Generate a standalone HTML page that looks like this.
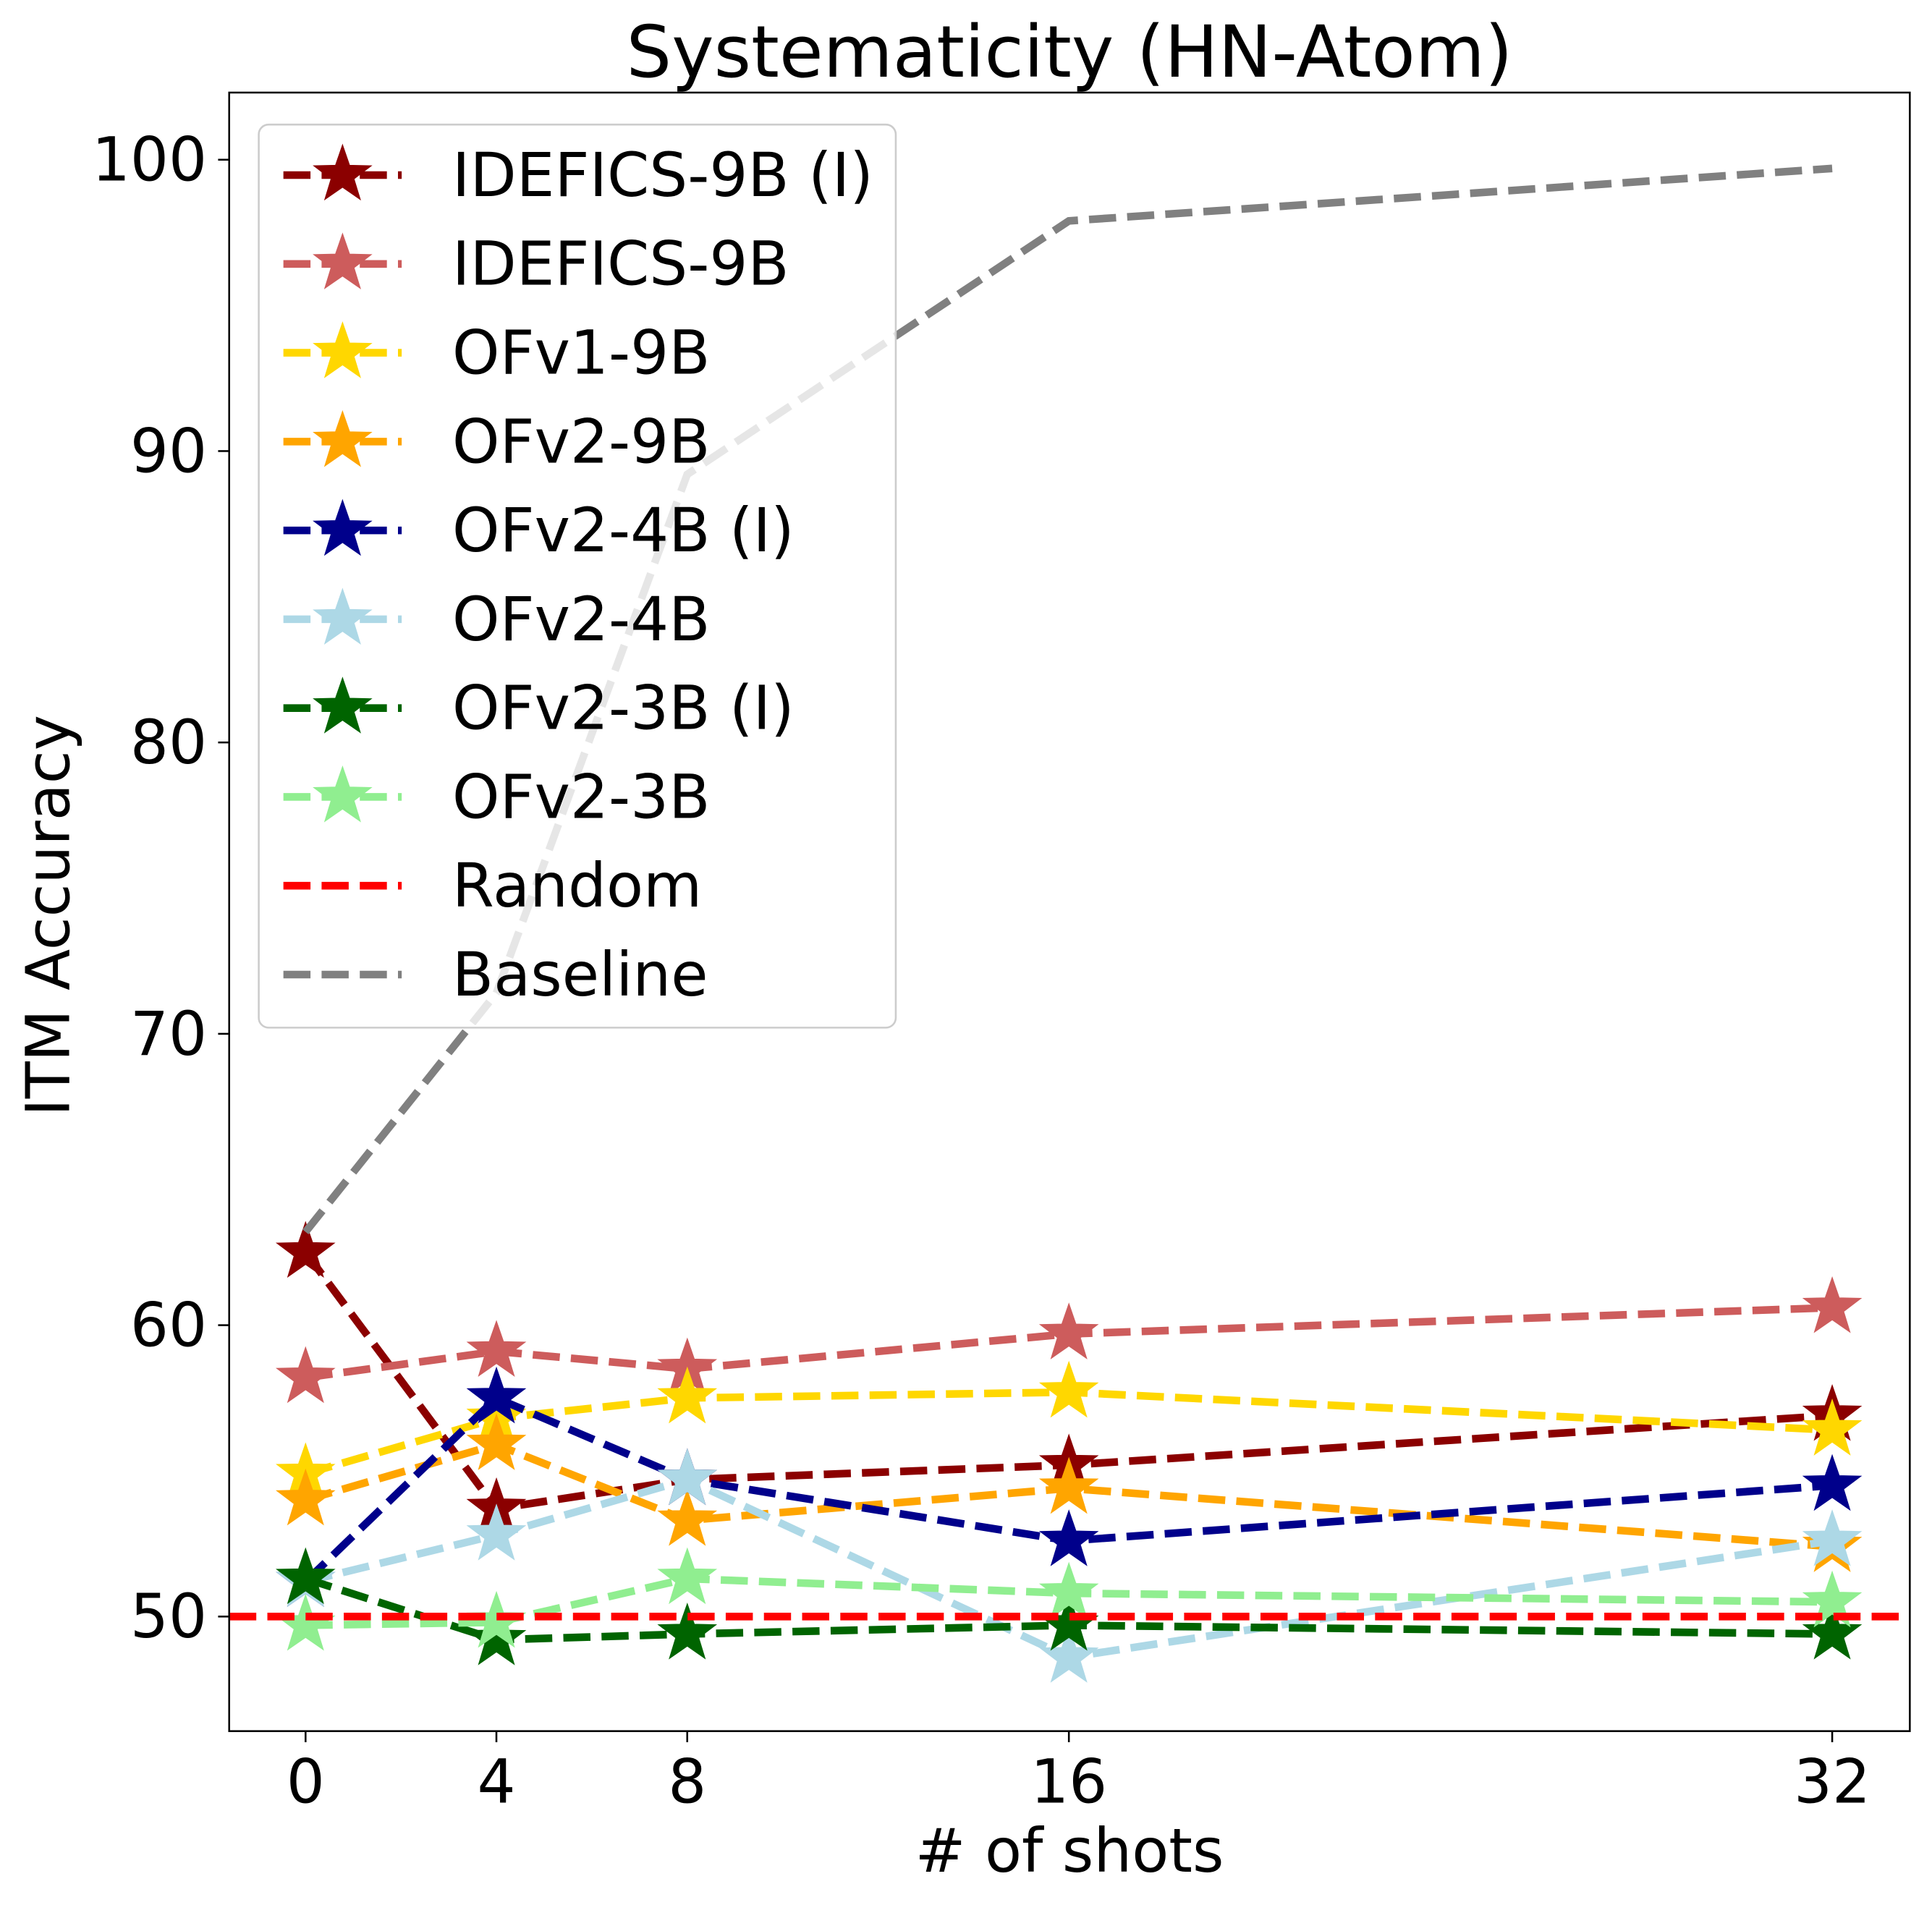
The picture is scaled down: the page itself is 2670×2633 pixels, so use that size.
<!DOCTYPE html>
<html><head><meta charset="utf-8"><style>
html,body{margin:0;padding:0;background:#fff}
svg{display:block;font-family:"DejaVu Sans","Liberation Sans",sans-serif}
</style></head><body>
<svg id="chart" width="2670" height="2633" viewBox="0 0 1568 1546" xmlns="http://www.w3.org/2000/svg">
<rect width="1568" height="1546" fill="#fff"/>
<g id="plot"></g>
</svg>
<script>
const shots = [0, 4, 8, 16, 32];
const xTicks = [0, 4, 8, 16, 32];
const yTicks = [50, 60, 70, 80, 90, 100];
const seriesNames = ["IDEFICS-9B (I)","IDEFICS-9B","OFv1-9B","OFv2-9B","OFv2-4B (I)","OFv2-4B","OFv2-3B (I)","OFv2-3B"];
const seriesColors = ["#8b0000","#cd5c5c","#ffd700","#ffa500","#00008b","#add8e6","#006400","#90ee90"];
const idefics9bI = [62.5, 53.7, 54.7, 55.2, 56.9];
const idefics9b = [58.2, 59.1, 58.5, 59.7, 60.6];
const ofv1_9b = [54.9, 56.8, 57.5, 57.7, 56.4];
const ofv2_9b = [54.0, 55.9, 53.3, 54.4, 52.4];
const ofv2_4bI = [51.2, 57.5, 54.7, 52.6, 54.5];
const ofv2_4b = [51.2, 52.8, 54.7, 48.6, 52.6];
const ofv2_3bI = [51.3, 49.2, 49.4, 49.7, 49.4];
const ofv2_3b = [49.7, 49.8, 51.3, 50.8, 50.5];
const baseline = [63.2, 71.4, 89.2, 97.9, 99.7];
const randomLevel = 50;

const seriesValues = [idefics9bI, idefics9b, ofv1_9b, ofv2_9b, ofv2_4bI, ofv2_4b, ofv2_3bI, ofv2_3b];
const NS = "http://www.w3.org/2000/svg";
const g = document.getElementById('plot');
const L = 186, R = 1550, T = 75, B = 1405;
const xS = v => 248 + (v - 0) * (1487 - 248) / 32;
const yS = v => 1312 - (v - 50) * 23.65;
function mk(tag, attrs, parent) {
  const e = document.createElementNS(NS, tag);
  for (const k in attrs) e.setAttribute(k, attrs[k]);
  (parent || g).appendChild(e);
  return e;
}
function starPath(cx, cy, r) {
  let d = "";
  for (let i = 0; i < 10; i++) {
    const rr = i % 2 === 0 ? r : r * 0.4;
    const a = -Math.PI / 2 + i * Math.PI / 5;
    d += (i ? "L" : "M") + (cx + rr * Math.cos(a)).toFixed(1) + "," + (cy + rr * Math.sin(a)).toFixed(1);
  }
  return d + "Z";
}
let t = mk('text', {x: 868, y: 62, 'font-size': 58, 'text-anchor': 'middle', fill: '#000'});
t.textContent = "Systematicity (HN-Atom)";


xTicks.forEach(v => {
  const ln = mk('line', {x1: xS(v), x2: xS(v), y1: B, y2: B + 9, stroke: '#000', 'stroke-width': 1.5});
  
  
  const tx = mk('text', {x: xS(v), y: B + 58, 'font-size': 49, 'text-anchor': 'middle'});
  tx.textContent = v;
  
  
});
yTicks.forEach(v => {
  const ln = mk('line', {x1: L - 9, x2: L, y1: yS(v), y2: yS(v), stroke: '#000', 'stroke-width': 1.5});
  
  
  const tx = mk('text', {x: L - 18, y: yS(v) + 17, 'font-size': 49, 'text-anchor': 'end'});
  tx.textContent = v;
  
  
});
t = mk('text', {x: 868, y: 1519, 'font-size': 49, 'text-anchor': 'middle'});
t.textContent = "# of shots";


t = mk('text', {x: 56, y: 743, 'font-size': 49, 'text-anchor': 'middle', transform: 'rotate(-90 56 743)'});
t.textContent = "ITM Accuracy";


const defs = mk('defs', {});
const cp = mk('clipPath', {id: 'clip'}, defs);
mk('rect', {x: L, y: T, width: R - L, height: B - T}, cp);
const pg = mk('g', {'clip-path': 'url(#clip)'});
const ptsOf = arr => arr.map((v, i) => xS(shots[i]) + "," + yS(v)).join(" ");
seriesValues.forEach((arr, s) => {
  const pl = mk('polyline', {points: ptsOf(arr), fill: 'none', stroke: seriesColors[s], 'stroke-width': 6.2, 'stroke-dasharray': '22,9'}, pg);
  
  
  arr.forEach((v, i) => {
    const st = mk('path', {d: starPath(xS(shots[i]), yS(v), 24), fill: seriesColors[s], stroke: seriesColors[s], 'stroke-width': 1}, pg);
    
    
  });
});
let rl = mk('line', {x1: L, x2: R, y1: yS(randomLevel), y2: yS(randomLevel), stroke: '#ff0000', 'stroke-width': 6.2, 'stroke-dasharray': '22,9'}, pg);


let bl = mk('polyline', {points: ptsOf(baseline), fill: 'none', stroke: '#808080', 'stroke-width': 6.2, 'stroke-dasharray': '22,9'}, pg);


let fr = mk('rect', {x: L, y: T, width: R - L, height: B - T, fill: 'none', stroke: '#000', 'stroke-width': 1.5});


const lg = mk('g', {});


mk('rect', {x: 210, y: 101, width: 517, height: 733, rx: 8, fill: '#fff', 'fill-opacity': 0.8, stroke: '#ccc', 'stroke-width': 1.5}, lg);
const legNames = seriesNames.concat(["Random", "Baseline"]);
const legColors = seriesColors.concat(["#ff0000", "#808080"]);
legNames.forEach((n, i) => {
  const y = 142 + i * 72.1;
  const e = mk('g', {}, lg);
  
  
  mk('line', {x1: 230, x2: 326, y1: y, y2: y, stroke: legColors[i], 'stroke-width': 6.2, 'stroke-dasharray': '22,9'}, e);
  if (i < 8) mk('path', {d: starPath(278, y, 24), fill: legColors[i], stroke: legColors[i]}, e);
  const tx = mk('text', {x: 367, y: y + 17, 'font-size': 49}, e);
  tx.textContent = n;
});
</script>
</body></html>
